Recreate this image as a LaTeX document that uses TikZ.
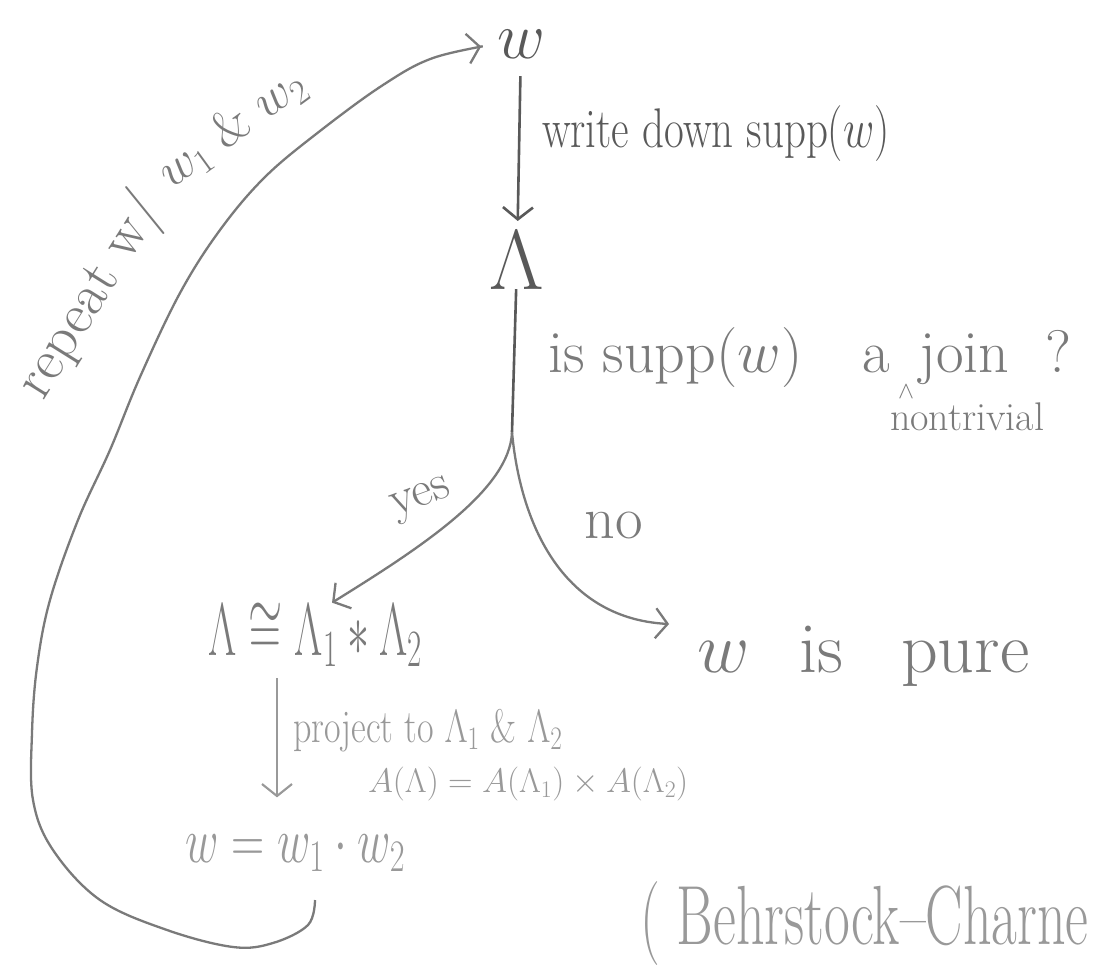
\RequirePackage{fix-cm}
\documentclass[tikz,border=0pt]{standalone}
\usepackage{amsmath,amssymb}
\usetikzlibrary{arrows.meta}

\colorlet{darkink}{black!65}
\colorlet{midink}{black!52}
\colorlet{paleink}{black!40}
\newcommand{\handsize}[1]{\fontsize{#1}{#1}\selectfont}

\begin{document}
\begin{tikzpicture}[x=1pt,y=-1pt,
	dark/.style={draw=darkink,line width=2.6pt},
	mid/.style={draw=midink,line width=2.3pt},
	pale/.style={draw=paleink,line width=2.1pt},
	tip/.style={-{Straight Barb[length=12pt,width=30pt]}},
	word/.style={inner sep=0pt,outer sep=0pt}]
%
	\useasboundingbox[fill=white] (0,0) rectangle (1112,966);
	\clip (0,0) rectangle (1112,966);
%
	\node[word,text=darkink,font=\handsize{66}] (w) at (521,44) {$w$};
	\node[word,text=darkink,font=\handsize{85}] (lam) at (517,260) {$\Lambda$};
	\coordinate (fork) at (512,432);
	\node[word,text=midink,font=\handsize{44},anchor=base west] (free) at (208,655)
		{\scalebox{1}[1.7]{$\Lambda\cong\Lambda_1*\Lambda_2$}};
	\node[word,text=midink,font=\handsize{72},anchor=base west] (pure) at (697,672)
		{$w$\hspace{0.7em}is\hspace{0.8em}pure};
	\node[word,text=paleink,font=\handsize{46},anchor=base west] (prod) at (185,862)
		{\scalebox{1}[1.4]{$w=w_1\cdot w_2$}};
	\coordinate (back) at (315,900);
	\coordinate (drop) at (277,0);
%
	\draw[dark,tip,shorten <=18pt,shorten >=10pt] (w) -- (lam);
	\node[word,text=darkink,font=\handsize{43},anchor=base west] (wd) at (542,147)
		{\scalebox{1}[1.3]{write down supp($w$)}};
%
	\draw[dark] (lam) -- (fork);
	\node[word,text=midink,font=\handsize{60},anchor=base west] (ask) at (548,372)
		{is supp($w$)\hspace{1em}a\hspace{0.5em}join\hspace{0.6em}?};
	\node[word,text=midink,font=\handsize{24}] (caret) at (906,392) {$\wedge$};
	\node[word,text=midink,font=\handsize{40},anchor=base west] (nontriv) at (890,430) {nontrivial};
%
	\draw[mid,tip] (fork) .. controls (510,490) and (420,548) .. ([xshift=17pt]free.north);
	\node[word,text=midink,font=\handsize{50},rotate=20] (yes) at (422,500) {yes};
	\draw[mid,tip,shorten >=28pt] (fork) .. controls (520,520) and (560,618) .. (pure.north west);
	\node[word,text=midink,font=\handsize{60}] (no) at (614,525) {no};
%
	\draw[pale,tip,shorten <=12pt,shorten >=36pt] (free.south -| drop) -- (prod.north -| drop);
	\node[word,text=paleink,font=\handsize{36},anchor=base west] (proj) at (293,742)
		{\scalebox{1}[1.3]{project to $\Lambda_1$ \& $\Lambda_2$}};
	\node[word,text=paleink,font=\handsize{34},anchor=base west] (prodA) at (368,792)
		{$A(\Lambda)=A(\Lambda_1)\times A(\Lambda_2)$};
%
	\draw[mid,tip,shorten >=16pt] plot[smooth,tension=0.6] coordinates {(back) (308,925) (273,943)
		(233,947) (167,930) (100,900) (53,850) (33,800) (32,733) (37,667) (50,600) (78,520)
		(110,450) (140,377) (180,293) (220,230) (265,177) (320,131) (383,85) (433,58) (w.west)};
	\node[word,text=midink,font=\handsize{58},rotate=58,anchor=base] (rep) at (104,304) {repeat w/};
	\node[word,text=midink,font=\handsize{50},rotate=36,anchor=base] (repw) at (240,140) {$w_1$ \& $w_2$};
%
	\node[word,text=paleink,font=\handsize{56},anchor=base west] (cite) at (640,944)
		{\scalebox{1}[1.5]{( Behrstock--Charne}};
%
\end{tikzpicture}
\end{document}
